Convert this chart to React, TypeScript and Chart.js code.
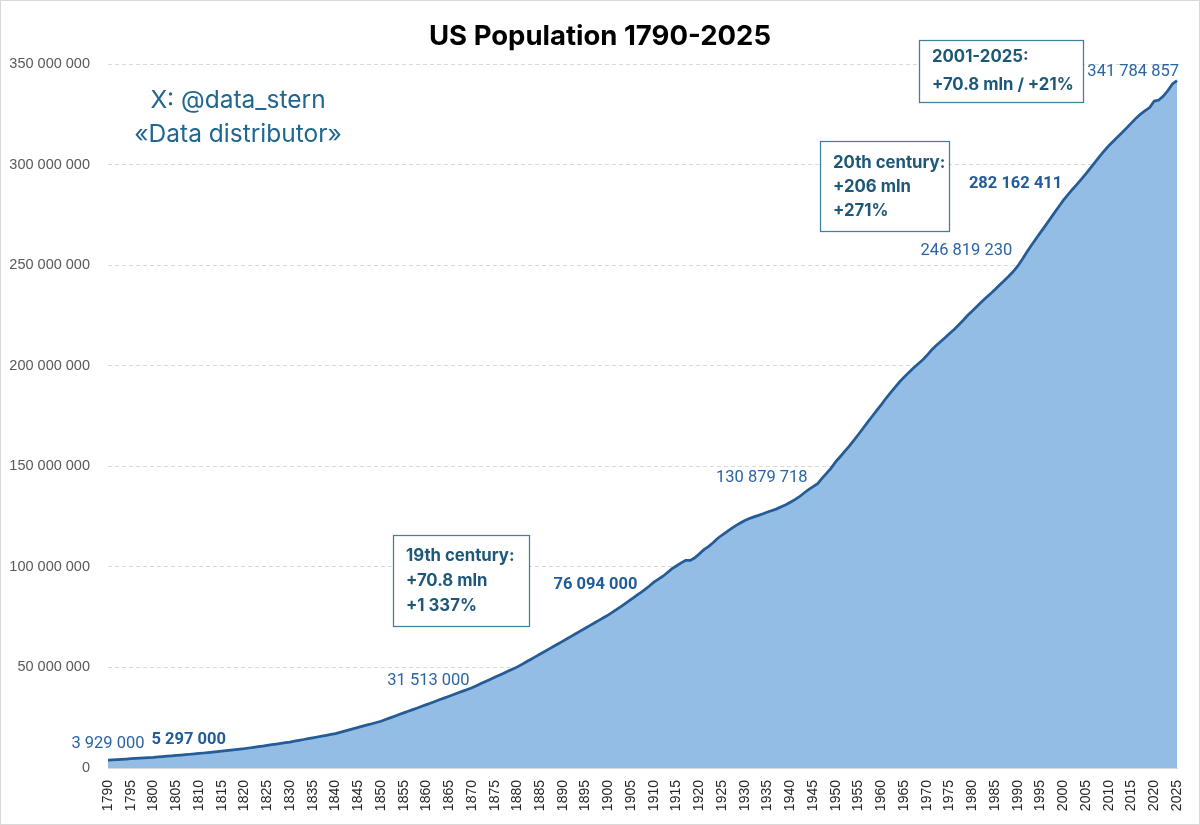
import React, { useEffect, useRef } from "react";
import { Chart, registerables } from "chart.js";

Chart.register(...registerables);

const FONT = "Roboto, 'Noto Sans', sans-serif";
const FONT_WIDE = "Inter, Roboto, sans-serif";
const FONT_AXIS = "'Liberation Sans', Arial, sans-serif";

const title = "US Population 1790-2025";

const years: number[] = Array.from({ length: 236 }, (_, i) => 1790 + i);

const population: number[] = [
  3929000, 4056000, 4194000, 4332000, 4469000, 4607000, 4745000, 4883000, 5021000, 5159000,
  5297000, 5486000, 5679000, 5872000, 6065000, 6258000, 6451000, 6644000, 6838000, 7031000,
  7224000, 7460000, 7700000, 7939000, 8179000, 8419000, 8659000, 8899000, 9139000, 9379000,
  9618000, 9939000, 10268000, 10596000, 10924000, 11252000, 11580000, 11909000, 12237000, 12565000,
  12901000, 13321000, 13742000, 14162000, 14582000, 15003000, 15423000, 15843000, 16264000, 16684000,
  17120000, 17733000, 18345000, 18957000, 19569000, 20182000, 20794000, 21406000, 22018000, 22631000,
  23261000, 24086000, 24911000, 25736000, 26561000, 27386000, 28212000, 29037000, 29862000, 30687000,
  31513000, 32351000, 33188000, 34026000, 34863000, 35701000, 36538000, 37376000, 38213000, 39051000,
  39905000, 40938000, 41972000, 43006000, 44040000, 45073000, 46107000, 47141000, 48174000, 49208000,
  50262000, 51542000, 52821000, 54100000, 55379000, 56658000, 57938000, 59217000, 60496000, 61775000,
  63056000, 64361000, 65666000, 66970000, 68275000, 69580000, 70885000, 72189000, 73494000, 74799000,
  76094000, 77584000, 79163000, 80632000, 82166000, 83822000, 85450000, 87008000, 88710000, 90490000,
  92407000, 93863000, 95335000, 97225000, 99111000, 100546000, 101961000, 103268000, 103208000, 104514000,
  106461000, 108538000, 110049000, 111947000, 114109000, 115829000, 117397000, 119035000, 120509000, 121767000,
  123077000, 124040000, 124840000, 125579000, 126374000, 127250000, 128053000, 128825000, 129825000, 130879718,
  132122446, 133402000, 134860000, 136739000, 138397000, 139928000, 141389000, 144126000, 146631000, 149188000,
  152271000, 154878000, 157553000, 160184000, 163026000, 165931000, 168903000, 171984000, 174882000, 177830000,
  180671000, 183691000, 186538000, 189242000, 191889000, 194303000, 196560000, 198712000, 200706000, 202677000,
  205052000, 207661000, 209896000, 211909000, 213854000, 215973000, 218035000, 220239000, 222585000, 225055000,
  227224719, 229465744, 231664432, 233792014, 235824907, 237923734, 240132831, 242288936, 244499004, 246819230,
  249622814, 252980941, 256514224, 259918588, 263125821, 266278393, 269394284, 272646925, 275854104, 279040168,
  282162411, 284968955, 287625193, 290107933, 292805298, 295516599, 298379912, 301231207, 304093966, 306771529,
  309327143, 311583481, 313877662, 316059947, 318386329, 320738994, 323071755, 325122128, 326838199, 328329953,
  331577720, 332099760, 334017321, 336806231, 340110988, 341784857,
];

const yTickMax = 350000000;
const yTickStep = 50000000;
const xLabelEvery = 5;

const labelYears: number[] = [1790, 1800, 1860, 1900, 1939, 1989, 2000, 2025];
const boldLabelYears: number[] = [1800, 1900, 2000];

const boxRecent: string[] = ["2001-2025:", "+70.8 mln / +21%"];
const box20th: string[] = ["20th century:", "+206 mln", "+271%"];
const box19th: string[] = ["19th century:", "+70.8 mln", "+1 337%"];
const watermark: string[] = ["X: @data_stern", "«Data distributor»"];

const fmt = (n: number) =>
  String(Math.round(n)).replace(/\B(?=(\d{3})+(?!\d))/g, " ");

const bgPlugin = {
  id: "bg",
  beforeDraw(chart: any) {
    const c = chart.ctx;
    c.save();
    c.fillStyle = "#ffffff";
    c.fillRect(0, 0, chart.width, chart.height);
    c.restore();
  },
  afterDraw(chart: any) {
    const c = chart.ctx;
    c.save();
    c.strokeStyle = "#d9d9d9";
    c.lineWidth = 1;
    c.strokeRect(0.5, 0.5, chart.width - 1, chart.height - 1);
    c.fillStyle = "#000000";
    c.font = `bold 27.5px ${FONT_WIDE}`;
    c.textAlign = "center";
    c.textBaseline = "middle";
    c.fillText(title, 600, 37);
    c.restore();
  },
};

const placement: Record<number, { align: CanvasTextAlign; dx: number; dy: number }> = {
  1790: { align: "center", dx: 0, dy: -16 },
  1800: { align: "left", dx: -2, dy: -17 },
  1860: { align: "center", dx: 2, dy: -24 },
  1900: { align: "center", dx: -13, dy: -30 },
  1939: { align: "center", dx: -24, dy: -27 },
  1989: { align: "right", dx: -1, dy: -21 },
  2000: { align: "right", dx: -1, dy: -17 },
  2025: { align: "right", dx: 2, dy: -9 },
};

function drawBox(c: CanvasRenderingContext2D, lines: string[], x: number, y: number, w: number, h: number, tx: number, ty0: number, lh: number) {
  c.save();
  c.fillStyle = "#ffffff";
  c.fillRect(x, y, w, h);
  c.strokeStyle = "#3f7f9c";
  c.lineWidth = 1.25;
  c.strokeRect(x + 0.5, y + 0.5, w, h);
  c.fillStyle = "#1d5878";
  c.font = `bold 16.75px ${FONT_WIDE}`;
  c.textAlign = "left";
  c.textBaseline = "middle";
  lines.forEach((t, i) => c.fillText(t, tx, ty0 + i * lh));
  c.restore();
}

const annotPlugin = {
  id: "annot",
  afterDatasetsDraw(chart: any) {
    const c = chart.ctx as CanvasRenderingContext2D;
    const xs = chart.scales.x;
    const ys = chart.scales.y;
    c.save();
    c.textBaseline = "middle";
    labelYears.forEach((yr) => {
      const idx = years.indexOf(yr);
      const v = population[idx];
      const px = xs.getPixelForValue(idx);
      const py = ys.getPixelForValue(v);
      const p = placement[yr];
      const bold = boldLabelYears.includes(yr);
      c.font = `${bold ? "bold " : ""}16.5px ${FONT}`;
      c.fillStyle = bold ? "#215c99" : "#2a64a3";
      c.textAlign = p.align;
      c.fillText(fmt(v), px + p.dx, py + p.dy);
    });
    c.fillStyle = "#1f6690";
    c.font = `24.5px ${FONT_WIDE}`;
    c.textAlign = "center";
    watermark.forEach((t, i) => c.fillText(t, 238, 101 + i * 34));
    c.restore();

    drawBox(c, boxRecent, 919, 40, 164, 62, 932, 57, 28);
    drawBox(c, box20th, 820, 141, 129, 90, 833, 163, 24);
    drawBox(c, box19th, 393, 535, 136, 91, 406, 556, 25);
  },
};

export default function App() {
  const ref = useRef<HTMLCanvasElement>(null);
  useEffect(() => {
    const canvas = ref.current;
    if (!canvas) return;
    const chart = new Chart(canvas, {
      type: "line",
      data: {
        labels: years.map(String),
        datasets: [
          {
            data: population,
            borderColor: "#235c96",
            backgroundColor: "rgba(136,182,227,0.9)",
            fill: "origin",
            pointRadius: 0,
            borderWidth: 2.75,
            tension: 0,
          },
        ],
      },
      options: {
        responsive: false,
        animation: false,
        devicePixelRatio: 1,
        layout: { padding: { top: 64, right: 23, left: 0, bottom: 0 } },
        plugins: {
          legend: { display: false },
          tooltip: { enabled: false },
          title: { display: false },
        },
        scales: {
          x: {
            z: 1,
            grid: { display: false, drawTicks: false },
            border: { display: true, color: "#d9d9d9", width: 1 },
            ticks: {
              autoSkip: false,
              minRotation: 90,
              maxRotation: 90,
              padding: 12,
              color: "#262626",
              font: { family: FONT_AXIS, size: 14 },
              callback: (_v: any, i: number) =>
                years[i] % xLabelEvery === 0 ? String(years[i]) : null,
            },
            afterFit: (s: any) => {
              s.height = 57;
              s.paddingRight = 0;
              s.paddingLeft = 0;
            },
          },
          y: {
            min: 0,
            max: yTickMax,
            ticks: {
              stepSize: yTickStep,
              padding: 18,
              color: "#595959",
              font: { family: FONT_AXIS, size: 14.5 },
              callback: (v: any) => fmt(Number(v)),
            },
            grid: { color: "#d9d9d9", drawTicks: false },
            border: { display: false, dash: [4, 3] },
            afterFit: (s: any) => {
              s.width = 108;
              s.paddingTop = 0;
              s.paddingBottom = 0;
            },
          },
        },
      },
      plugins: [bgPlugin, annotPlugin],
    } as any);
    return () => chart.destroy();
  }, []);
  return (
    <div style={{ position: "fixed", left: 0, top: 0, width: 1200, height: 825 }}>
      <canvas ref={ref} width={1200} height={825} style={{ display: "block" }} />
    </div>
  );
}
